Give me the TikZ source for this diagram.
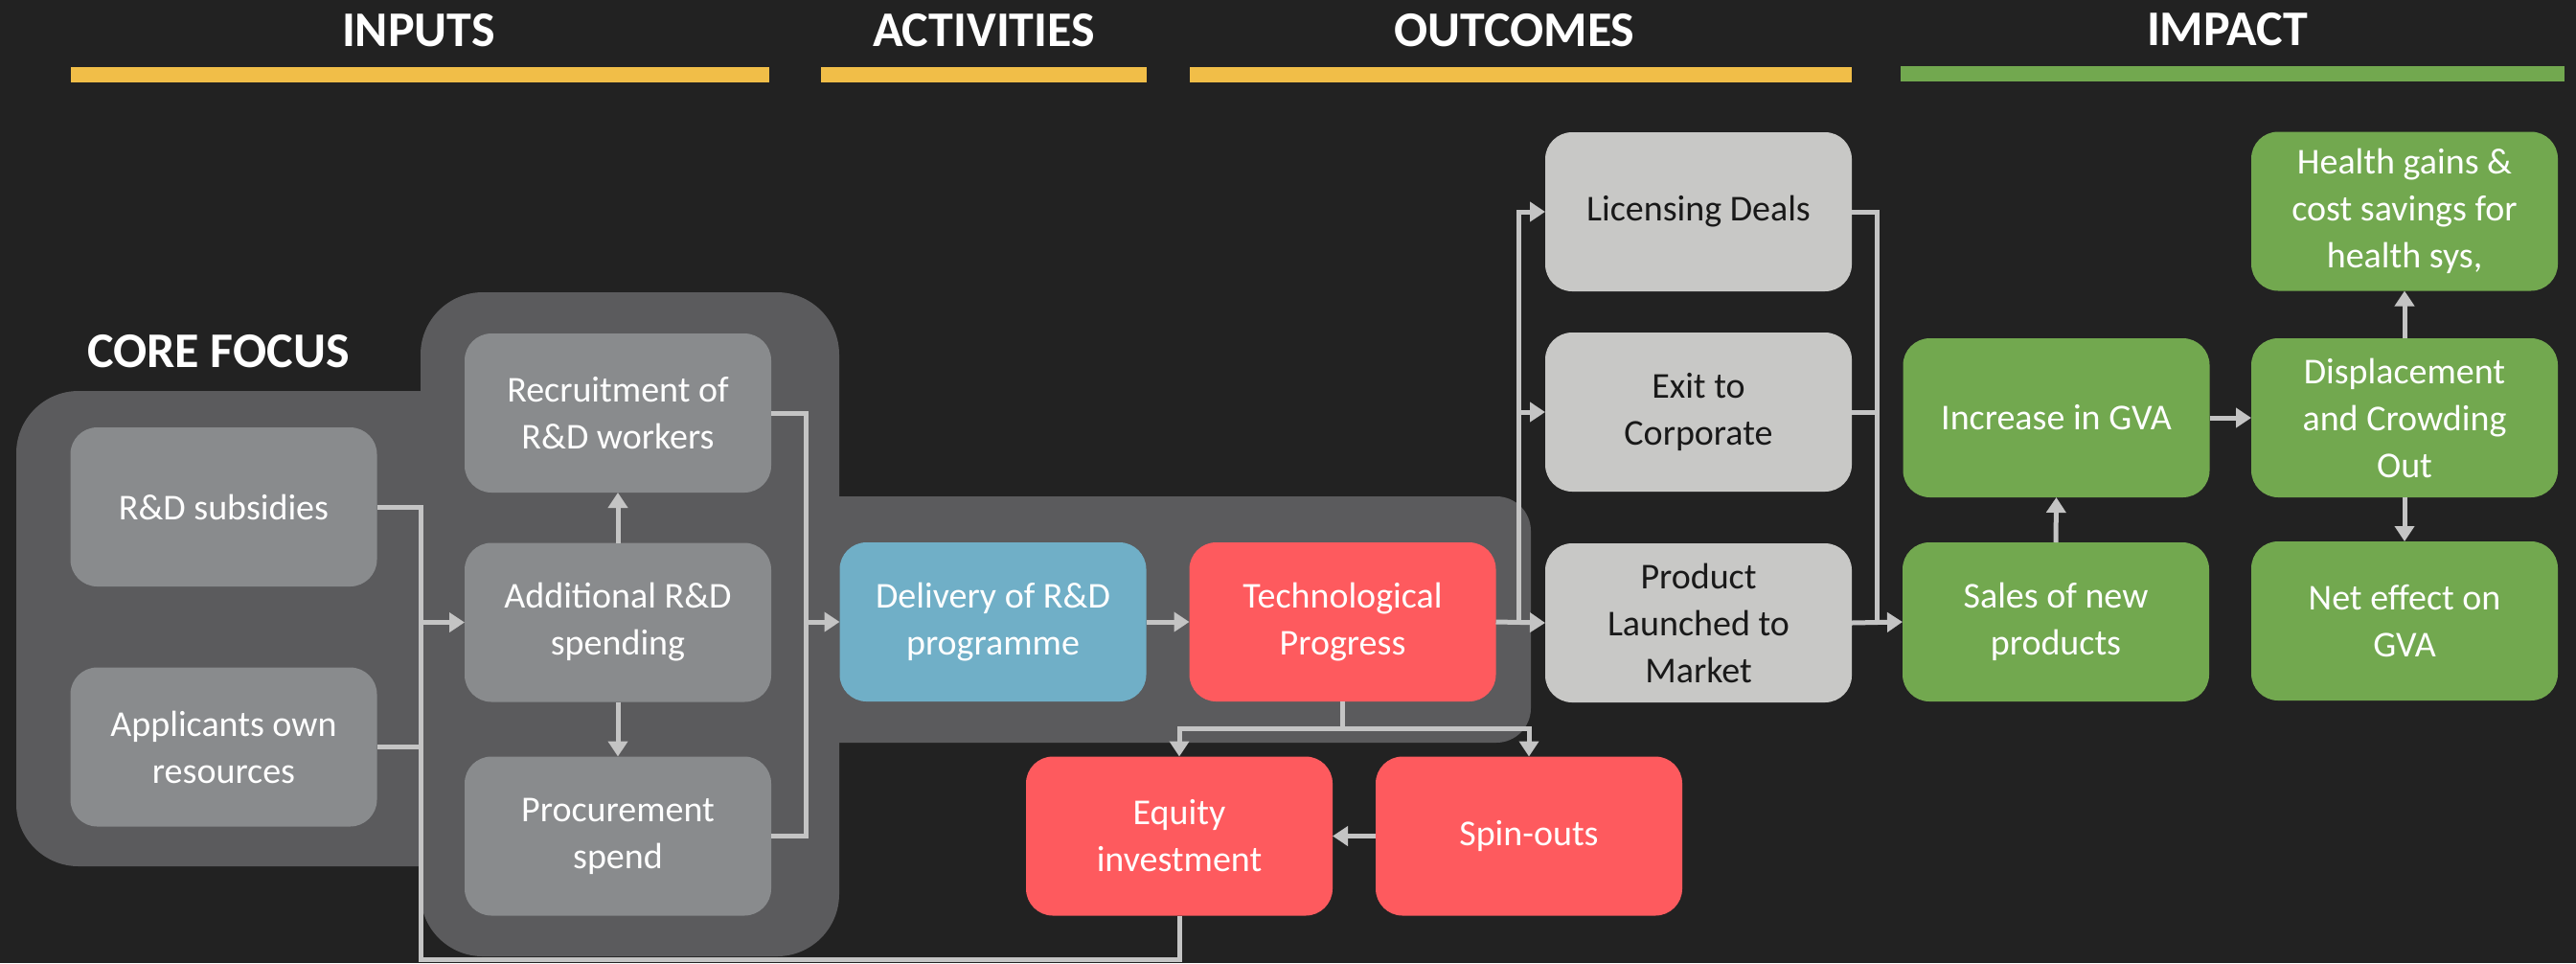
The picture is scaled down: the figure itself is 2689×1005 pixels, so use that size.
\documentclass[tikz,border=0pt]{standalone}
\usepackage{fontspec}
\setmainfont{Carlito}
\usetikzlibrary{arrows.meta,calc}

\definecolor{pagebg}{HTML}{222222}
\definecolor{panel}{HTML}{5B5B5D}
\definecolor{inbox}{HTML}{898B8D}
\definecolor{actblue}{HTML}{70AFC7}
\definecolor{techred}{HTML}{FE5A5E}
\definecolor{outgray}{HTML}{C8C8C6}
\definecolor{impgreen}{HTML}{72A84F}
\definecolor{baryellow}{HTML}{F1BE48}
\definecolor{linkgray}{HTML}{C4C4C4}

\tikzset{
  box/.style={minimum width=320pt, minimum height=166pt, rounded corners=28pt,
    inner sep=0pt, outer sep=0pt, align=center, text=white,
    font=\fontsize{38}{49}\selectfont},
  inputbox/.style={box, fill=inbox},
  actbox/.style={box, fill=actblue},
  redbox/.style={box, fill=techred},
  outbox/.style={box, fill=outgray, text=black!90},
  impbox/.style={box, fill=impgreen},
  heading/.style={text=white, anchor=base, inner sep=0pt,
    font=\fontsize{52}{60}\selectfont\bfseries},
  conn/.style={draw=linkgray, line width=5pt},
  arr/.style={conn, -{Triangle[length=16pt,width=20pt]}},
}

\begin{document}
\begin{tikzpicture}[x=1pt, y=-1pt]
  % canvas
  \fill[pagebg] (0,0) rectangle (2689,1005);
  \useasboundingbox (0,0) rectangle (2689,1005);

  % column headings and their bars
  \node[heading] (hIn)  at (437,48)  {INPUTS};
  \node[heading] (hAct) at (1027,48) {ACTIVITIES};
  \node[heading] (hOut) at (1581,48) {OUTCOMES};
  \node[heading] (hImp) at (2325,47) {IMPACT};
  \fill[baryellow] (74,70) rectangle (803,86);
  \fill[baryellow] (857,70) rectangle (1197,86);
  \fill[baryellow] (1242,70) rectangle (1933,86);
  \fill[impgreen] (1984,69) rectangle (2677,85);

  % core focus panels
  \fill[panel, rounded corners=65pt] (17,408) rectangle (600,904);
  \fill[panel, rounded corners=65pt] (439,305) rectangle (876,998);
  \fill[panel, rounded corners=36pt] (800,518) rectangle (1598,775);
  \node[heading] (hCore) at (228,383) {CORE FOCUS};

  % inputs
  \node[inputbox] (subs) at (233.5,529) {R\&D subsidies};
  \node[inputbox] (appl) at (233.5,779.5) {Applicants own\\resources};
  \node[inputbox] (recr) at (645,431) {Recruitment of\\R\&D workers};
  \node[inputbox] (addl) at (645,649.5) {Additional R\&D\\spending};
  \node[inputbox] (proc) at (645,872.5) {Procurement\\spend};

  % activities
  \node[actbox] (deliv) at (1036.5,649) {Delivery of R\&D\\programme};
  \node[redbox] (tech) at (1401.5,649) {Technological\\Progress};
  \node[redbox] (equity) at (1231,872.5) {Equity\\investment};
  \node[redbox] (spin) at (1596,872.5) {Spin-outs};

  % outcomes
  \node[outbox] (lic)  at (1773,221) {Licensing Deals};
  \node[outbox] (exit) at (1773,430) {Exit to\\Corporate};
  \node[outbox] (prod) at (1773,650) {Product\\Launched to\\Market};

  % impact
  \node[impbox] (incr)   at (2146.5,436) {Increase in GVA};
  \node[impbox] (sales)  at (2146,649) {Sales of new\\products};
  \node[impbox] (health) at (2510,220.5) {Health gains \&\\cost savings for\\health sys,};
  \node[impbox] (displ)  at (2510,436) {Displacement\\and Crowding\\Out};
  \node[impbox] (net)    at (2510,648) {Net effect on\\GVA};

  % junction points of the bus lines
  \coordinate (busL) at (439,1001);
  \coordinate (busR) at (841,649);
  \coordinate (busO) at (1585,649);
  \coordinate (busI) at (1959,649);
  \coordinate (busT) at (1401.5,760);

  % inputs into additional spending, with the equity feedback loop
  \draw[conn] (subs.east) -| (busL) -| (equity.south);
  \draw[conn] (appl.east) -- (appl.east -| busL);
  \draw[arr] (addl.west -| busL) -- (addl.west);
  \draw[arr] (addl.north) -- (recr.south);
  \draw[arr] (addl.south) -- (proc.north);

  % spending streams into delivery
  \draw[conn] (recr.east) -| (busR);
  \draw[conn] (proc.east) -| (busR);
  \draw[arr] (busR) -- (deliv.west);
  \draw[arr] (deliv.east) -- (tech.west);

  % technological progress to outcomes
  \draw[arr] (tech.east) -- (prod.west);
  \draw[arr] (busO) |- (lic.west);
  \draw[arr] (exit.west -| busO) -- (exit.west);

  % technological progress to spin-outs and equity
  \draw[conn] (tech.south) -- (busT);
  \draw[arr] (busT) -| (equity.north);
  \draw[arr] (busT) -| (spin.north);
  \draw[arr] (spin.west) -- (equity.east);

  % outcomes into sales
  \draw[conn] (lic.east) -| (busI);
  \draw[conn] (exit.east) -- (exit.east -| busI);
  \draw[arr] (prod.east) -- (sales.west);

  % impact chain
  \draw[arr] (sales.north) -- (incr.south);
  \draw[arr] (incr.east) -- (displ.west);
  \draw[arr] (displ.north) -- (health.south);
  \draw[arr] (displ.south) -- (net.north);
\end{tikzpicture}
\end{document}
